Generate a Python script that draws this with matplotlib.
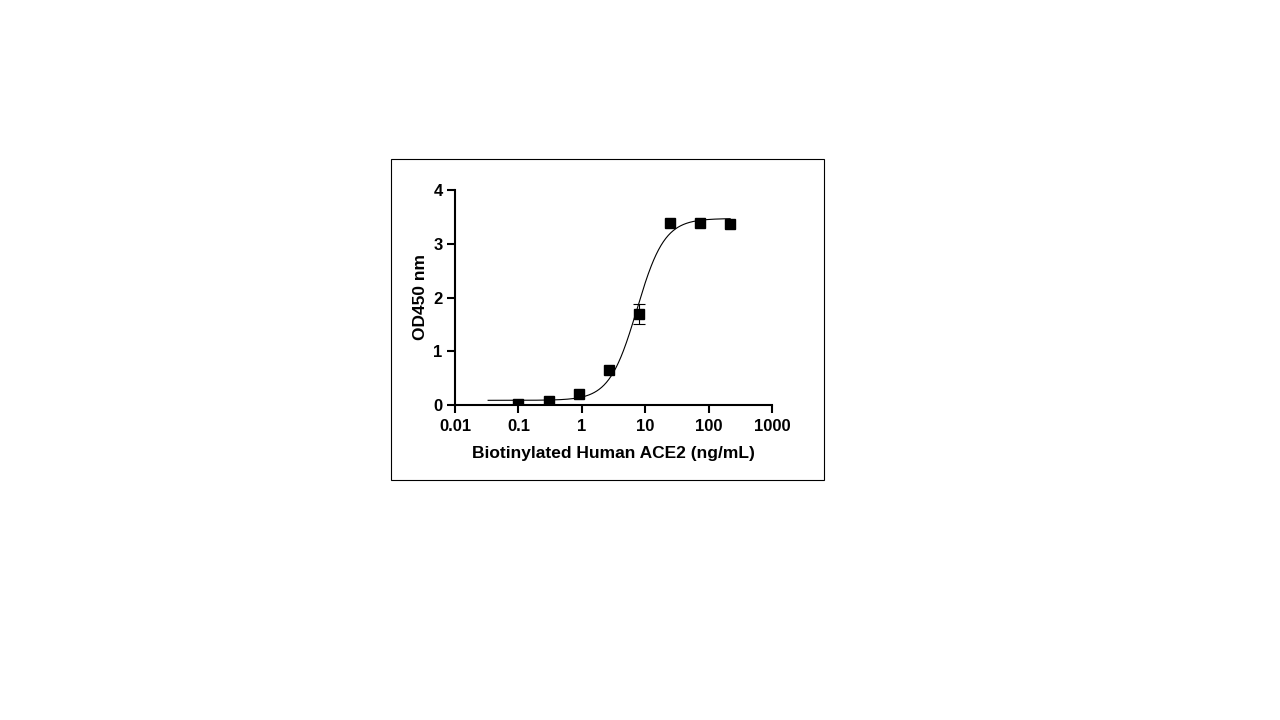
import numpy as np
import matplotlib
matplotlib.use("Agg")
import matplotlib.pyplot as plt
from matplotlib.patches import Rectangle

# Data
conc = [0.1, 0.3, 0.9, 2.7, 8.1, 24.3, 72.9, 218.7]
od450 = [0.02, 0.07, 0.20, 0.65, 1.69, 3.39, 3.39, 3.37]
od_err = [0.0, 0.0, 0.0, 0.0, 0.18, 0.0, 0.0, 0.0]
# 4PL fit parameters (bottom, top, EC50, hill)
fit_bottom, fit_top, fit_ec50, fit_hill = 0.087, 3.47, 7.4, 2.0
curve_range = [0.0333, 218.7]
xticks = [0.01, 0.1, 1, 10, 100, 1000]
xticklabels = ["0.01", "0.1", "1", "10", "100", "1000"]
yticks = [0, 1, 2, 3, 4]

plt.rcParams['font.family'] = ['Liberation Sans', 'DejaVu Sans']

fig = plt.figure(figsize=(12.8, 7.2), dpi=100)
fig.patches.append(Rectangle((391/1280, 1-480/720), (824-391)/1280, (480-159)/720,
                             transform=fig.transFigure, fill=False, ec='black', lw=0.8))
ax = fig.add_axes([455/1280, 1-405/720, (772-455)/1280, (405-190)/720])

xs = np.logspace(np.log10(curve_range[0]), np.log10(curve_range[1]), 400)
ys = fit_bottom + (fit_top - fit_bottom) / (1 + (fit_ec50 / xs) ** fit_hill)
ax.plot(xs, ys, color='black', lw=0.8, zorder=2)
ax.plot(conc, od450, 's', color='black', ms=7, zorder=3)
err_x = [c for c, e in zip(conc, od_err) if e > 0]
err_y = [v for v, e in zip(od450, od_err) if e > 0]
err_e = [e for e in od_err if e > 0]
ax.errorbar(err_x, err_y, yerr=err_e, fmt='none', ecolor='black', capsize=4,
            elinewidth=0.8, capthick=0.8, zorder=3)

ax.set_xscale('log')
ax.set_xlim(0.01, 1000)
ax.set_ylim(0, 4)
ax.set_xticks(xticks)
ax.set_xticklabels(xticklabels)
ax.xaxis.set_minor_locator(matplotlib.ticker.NullLocator())
ax.set_yticks(yticks)
for s in ['top', 'right']:
    ax.spines[s].set_visible(False)
for s in ['left', 'bottom']:
    ax.spines[s].set_linewidth(1.5)
ax.tick_params(axis='both', length=6, width=1.5, labelsize=12)
ax.tick_params(axis='x', pad=4)
ax.tick_params(axis='y', pad=3)
for lab in ax.get_xticklabels() + ax.get_yticklabels():
    lab.set_fontweight('bold')
ax.set_xlabel("Biotinylated Human ACE2 (ng/mL)", fontsize=12.5, fontweight='bold', labelpad=9)
ax.set_ylabel("OD450 nm", fontsize=12.5, fontweight='bold', labelpad=4)
ax.patch.set_alpha(0)

fig.savefig("out.png", dpi=100)
